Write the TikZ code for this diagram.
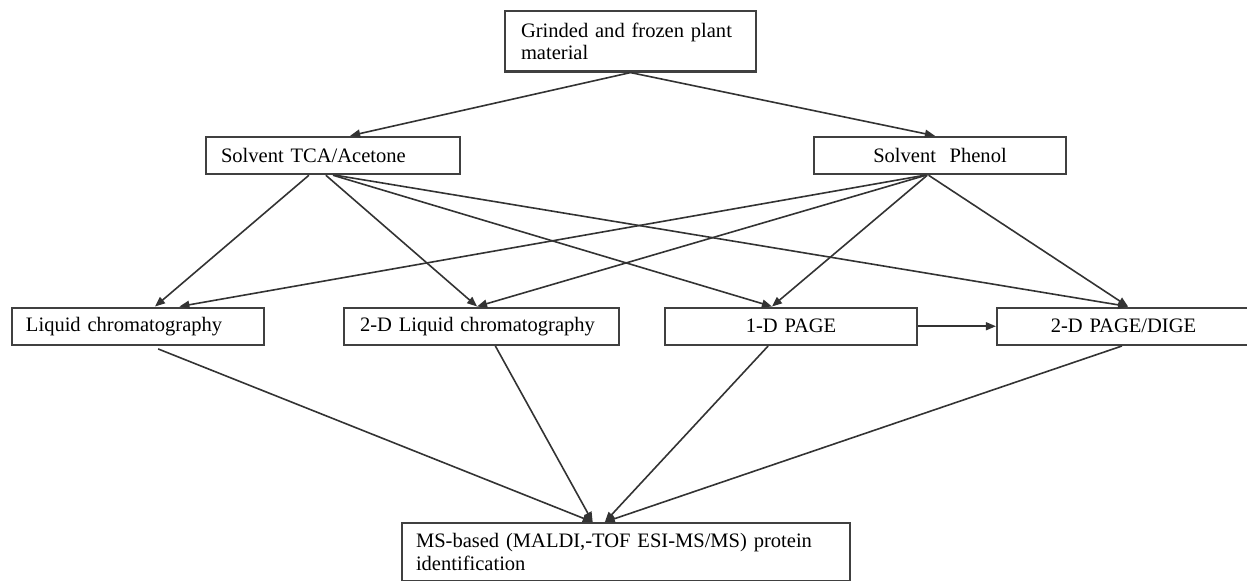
\documentclass[tikz,border=0pt]{standalone}
\usepackage{fontspec}
\setmainfont{Liberation Serif}
\usetikzlibrary{arrows.meta,calc}

\tikzset{
  box/.style={draw=black!75, line width=1.6pt, inner ysep=0pt, minimum height=28pt,
    font=\fontsize{15.4}{16.8}\selectfont},
  flow/.style={draw=black!80, line width=1.2pt, -{Triangle[length=7.5pt,width=6pt]}}
}

\begin{document}
\begin{tikzpicture}[x=0.75pt,y=0.75pt,yscale=-1,xscale=1]
\useasboundingbox (0,0) rectangle (1247,581);

% Boxes
\node[box, minimum width=188.25pt, minimum height=45.4pt, inner xsep=12pt, text width=164.25pt, align=left] (plant) at (630.5,41.25) {Grinded and frozen plant\\material};
\node[box, minimum width=190.5pt, inner xsep=11.25pt, text width=168pt, align=left] (tca) at (333,155.5) {Solvent TCA/Acetone};
\node[box, minimum width=189pt, inner xsep=9.5pt, text width=170pt, align=center] (phenol) at (940,155.5) {Solvent\ \ Phenol};
\node[box, minimum width=189pt, inner xsep=10.5pt, text width=168pt, align=left] (lc) at (138,326.25) {Liquid chromatography};
\node[box, minimum width=206.25pt, inner xsep=12pt, text width=182.25pt, align=left] (lctwo) at (481.5,326.25) {2-D Liquid chromatography};
\node[box, minimum width=189pt, inner xsep=9.5pt, text width=170pt, align=center] (pageone) at (791,326.25) {1-D PAGE};
\node[box, minimum width=189.75pt, inner xsep=9.5pt, text width=170.75pt, align=center] (pagetwo) at (1123.5,326.25) {2-D PAGE/DIGE};
\node[box, anchor=north, inner xsep=10.5pt, inner ysep=8pt, text width=315pt, align=left] (ms) at (626,522) {MS-based (MALDI,-TOF ESI-MS/MS) protein\\identification};

% Arrows from the plant material
\draw[flow] ($(plant.south west)!0.5!(plant.south east)$) -- ($(tca.north west)!0.567!(tca.north east)$);
\draw[flow] ($(plant.south west)!0.5!(plant.south east)$) -- ($(phenol.north west)!0.48!(phenol.north east)$);

% Arrows from TCA/Acetone
\draw[flow] ($(tca.south west)!0.406!(tca.south east)$) -- ($(lc.north west)!0.567!(lc.north east)$);
\draw[flow] ($(tca.south west)!0.472!(tca.south east)$) -- ($(lctwo.north west)!0.484!(lctwo.north east)$);
\draw[flow] ($(tca.south west)!0.5!(tca.south east)$) -- ($(pageone.north west)!0.425!(pageone.north east)$);
\draw[flow] ($(tca.south west)!0.51!(tca.south east)$) -- ($(pagetwo.north west)!0.518!(pagetwo.north east)$);

% Arrows from Phenol
\draw[flow] ($(phenol.south west)!0.44!(phenol.south east)$) -- ($(lc.north west)!0.663!(lc.north east)$);
\draw[flow] ($(phenol.south west)!0.445!(phenol.south east)$) -- ($(lctwo.north west)!0.484!(lctwo.north east)$);
\draw[flow] ($(phenol.south west)!0.45!(phenol.south east)$) -- ($(pageone.north west)!0.425!(pageone.north east)$);
\draw[flow] ($(phenol.south west)!0.455!(phenol.south east)$) -- ($(pagetwo.north west)!0.518!(pagetwo.north east)$);

% 1-D to 2-D PAGE
\draw[flow] (pageone.east) -- (pagetwo.west);

% Arrows to the MS identification
\draw[flow, shorten <=6pt] ($(lc.south west)!0.55!(lc.south east)$) -- ($(ms.north west)!0.426!(ms.north east)$);
\draw[flow] ($(lctwo.south west)!0.55!(lctwo.south east)$) -- ($(ms.north west)!0.426!(ms.north east)$);
\draw[flow] ($(pageone.south west)!0.41!(pageone.south east)$) -- ($(ms.north west)!0.453!(ms.north east)$);
\draw[flow] ($(pagetwo.south west)!0.494!(pagetwo.south east)$) -- ($(ms.north west)!0.453!(ms.north east)$);

\end{tikzpicture}
\end{document}
